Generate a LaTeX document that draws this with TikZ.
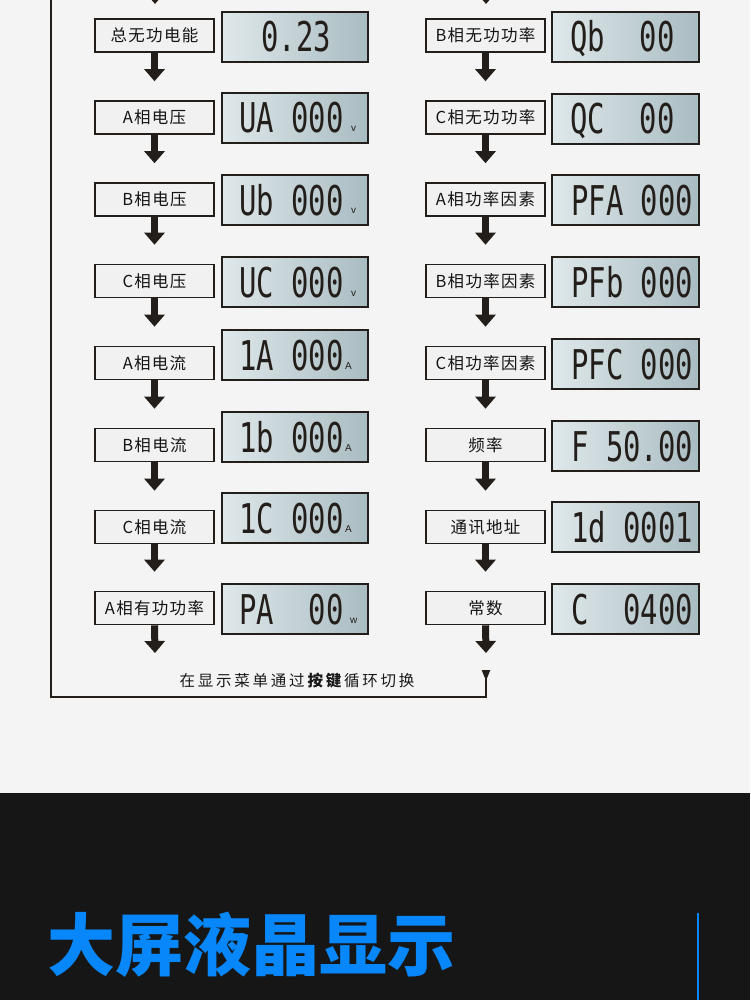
\documentclass[tikz,border=0pt]{standalone}
\usepackage{fontspec}
\usetikzlibrary{arrows.meta}
\setmainfont{Noto Sans CJK SC}
\newfontfamily\cjk[LetterSpace=8]{Noto Sans CJK SC}
\newfontfamily\cjkw[LetterSpace=18]{Noto Sans CJK SC}
\newfontfamily\titlefont{Noto Sans CJK SC}
\newfontfamily\segfont{DejaVu Sans Mono}
\newfontfamily\unitfont{Liberation Sans}
\definecolor{bgtop}{HTML}{F4F4F4}
\definecolor{bgdark}{HTML}{161616}
\definecolor{ink}{HTML}{231E1A}
\definecolor{lcdl}{HTML}{DFE8EA}
\definecolor{lcdr}{HTML}{A9BCC2}
\definecolor{lblfill}{HTML}{F1F1F1}
\definecolor{titleblue}{HTML}{0787FA}
\newcommand{\segtxt}[1]{\scalebox{0.705}[1]{#1}}
\begin{document}
\begin{tikzpicture}[x=1pt,y=-1pt,
  lbl/.style={draw=ink, line width=1.6pt, fill=lblfill, minimum width=119pt, minimum height=33pt, inner sep=0pt, font=\cjk\fontsize{16.5}{17}\selectfont, text=black!92},
  lcd/.style={draw=ink, line width=2pt, left color=lcdl, right color=lcdr, minimum width=146pt, minimum height=50pt, inner sep=0pt},
  seg/.style={anchor=base west, inner sep=0pt, font=\segfont\fontsize{41}{41}\selectfont, text=ink},
  unit/.style={anchor=base west, inner sep=0pt, font=\unitfont\fontsize{10}{10}\selectfont, text=ink},
  flow/.style={draw=ink, line width=7pt, -{Triangle[width=20pt,length=12pt]}, shorten >=19pt},
  flowend/.style={draw=ink, line width=7pt, -{Triangle[width=20pt,length=12pt]}},
  loopline/.style={draw=ink, line width=2.2pt}
]
\useasboundingbox (0,0) rectangle (750,1000);
\fill[bgtop] (0,0) rectangle (750,793);
\fill[bgdark] (0,793) rectangle (750,1000);

% left column labels
\node[lbl] (a1) at (154.5,35.5) {总无功电能};
\node[lbl] (a2) at (154.5,117.5) {A相电压};
\node[lbl] (a3) at (154.5,199.5) {B相电压};
\node[lbl] (a4) at (154.5,281) {C相电压};
\node[lbl] (a5) at (154.5,363) {A相电流};
\node[lbl] (a6) at (154.5,445) {B相电流};
\node[lbl] (a7) at (154.5,527) {C相电流};
\node[lbl] (a8) at (154.5,608) {A相有功功率};
% right column labels
\node[lbl] (b1) at (485.5,35.5) {B相无功功率};
\node[lbl] (b2) at (485.5,117.5) {C相无功功率};
\node[lbl] (b3) at (485.5,199.5) {A相功率因素};
\node[lbl] (b4) at (485.5,281) {B相功率因素};
\node[lbl] (b5) at (485.5,363) {C相功率因素};
\node[lbl] (b6) at (485.5,445) {频率};
\node[lbl] (b7) at (485.5,527) {通讯地址};
\node[lbl] (b8) at (485.5,608) {常数};

% LCD panels left
\node[lcd] (da1) at (295,37) {};
\node[lcd] (da2) at (295,118) {};
\node[lcd] (da3) at (295,200) {};
\node[lcd] (da4) at (295,282) {};
\node[lcd] (da5) at (295,355) {};
\node[lcd] (da6) at (295,437) {};
\node[lcd] (da7) at (295,518) {};
\node[lcd] (da8) at (295,609) {};
% LCD panels right
\node[lcd, minimum width=147pt] (db1) at (625.5,37) {};
\node[lcd, minimum width=147pt] (db2) at (625.5,119) {};
\node[lcd, minimum width=147pt] (db3) at (625.5,200) {};
\node[lcd, minimum width=147pt] (db4) at (625.5,282) {};
\node[lcd, minimum width=147pt] (db5) at (625.5,364) {};
\node[lcd, minimum width=147pt] (db6) at (625.5,446) {};
\node[lcd, minimum width=147pt] (db7) at (625.5,527) {};
\node[lcd, minimum width=147pt] (db8) at (625.5,609) {};

% LCD texts left
\node[seg] (ta1) at (261,52) {\segtxt{0.23}};
\node[seg] (ta2) at (239,133) {\segtxt{UA 000}};
\node[unit] (ua2) at (351,132) {v};
\node[seg] (ta3) at (239,215) {\segtxt{Ub 000}};
\node[unit] (ua3) at (351,214) {v};
\node[seg] (ta4) at (239,297) {\segtxt{UC 000}};
\node[unit] (ua4) at (351,296) {v};
\node[seg] (ta5) at (239,370) {\segtxt{1A 000}};
\node[unit] (ua5) at (345,369) {A};
\node[seg] (ta6) at (239,452) {\segtxt{1b 000}};
\node[unit] (ua6) at (345,451) {A};
\node[seg] (ta7) at (239,533) {\segtxt{1C 000}};
\node[unit] (ua7) at (345,532) {A};
\node[seg] (ta8) at (239,624) {\segtxt{PA\ \ 00}};
\node[unit] (ua8) at (350,623) {w};
% LCD texts right
\node[seg] (tb1) at (570,52) {\segtxt{Qb\ \ 00}};
\node[seg] (tb2) at (570,134) {\segtxt{QC\ \ 00}};
\node[seg] (tb3) at (571,215) {\segtxt{PFA 000}};
\node[seg] (tb4) at (571,297) {\segtxt{PFb 000}};
\node[seg] (tb5) at (571,379) {\segtxt{PFC 000}};
\node[seg] (tb6) at (571,461) {\segtxt{F 50.00}};
\node[seg] (tb7) at (571,542) {\segtxt{1d 0001}};
\node[seg] (tb8) at (571,624) {\segtxt{C\ \ 0400}};

% flow arrows
\foreach \i/\j in {1/2,2/3,3/4,4/5,5/6,6/7,7/8}{
  \draw[flow] (a\i.south) -- (a\j.north);
  \draw[flow] (b\i.south) -- (b\j.north);
}
\coordinate (aend) at (155,653);
\coordinate (bend) at (486,653);
\draw[flowend] (a8.south) -- (aend);
\draw[flowend] (b8.south) -- (bend);
% partial arrows entering from the top
\coordinate (atop) at (155,-30);
\coordinate (atip) at (155,4);
\coordinate (btop) at (486,-30);
\coordinate (btip) at (486,4);
\draw[flowend] (atop) -- (atip);
\draw[flowend] (btop) -- (btip);

% loop line
\coordinate (lpstart) at (486,670);
\coordinate (lpc1) at (486,697);
\coordinate (lpc2) at (51,697);
\coordinate (lptop) at (51,-5);
\draw[loopline, {Triangle[reversed,width=8pt,length=11pt]}-] (lpstart) -- (lpc1) -- (lpc2) -- (lptop);

\node[inner sep=0pt, font=\cjkw\fontsize{15.5}{16}\selectfont, text=black!90] (note) at (297,681) {在显示菜单通过\textbf{按键}循环切换};

% bottom banner
\node[anchor=west, inner sep=0pt, font=\titlefont\bfseries\fontsize{68}{68}\selectfont, text=titleblue] (title) at (47,945) {大屏液晶显示};
\coordinate (vl1) at (698,913);
\coordinate (vl2) at (698,1000);
\draw[titleblue, line width=1.6pt] (vl1) -- (vl2);
\end{tikzpicture}
\end{document}
